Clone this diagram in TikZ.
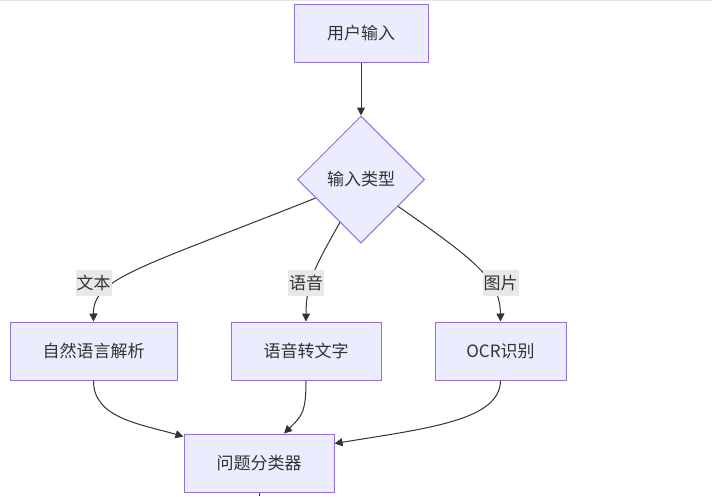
\documentclass[tikz,border=0pt]{standalone}
\usepackage{fontspec}
\setmainfont{Noto Sans CJK SC}
\usetikzlibrary{shapes.geometric,arrows.meta,calc}
\definecolor{nodefill}{HTML}{ECECFF}
\definecolor{nodeborder}{HTML}{9370DB}
\definecolor{edgecol}{HTML}{333333}
\definecolor{lblbg}{HTML}{E8E8E8}
\tikzset{
  box/.style={draw=nodeborder, fill=nodefill, line width=1pt, minimum height=58pt, inner sep=0pt, text=edgecol, font=\fontsize{17pt}{20pt}\selectfont},
  dia/.style={diamond, draw=nodeborder, fill=nodefill, line width=1pt, minimum width=127pt, minimum height=127pt, inner sep=0pt, text=edgecol, font=\fontsize{17pt}{20pt}\selectfont},
  lbl/.style={fill=lblbg, text=edgecol, inner xsep=1pt, inner ysep=0pt, minimum height=26pt, font=\fontsize{17pt}{20pt}\selectfont},
  arr/.style={draw=edgecol, line width=1pt, -{Triangle[length=8pt,width=8pt]}},
  plain/.style={draw=edgecol, line width=1pt}
}
\begin{document}
\begin{tikzpicture}[x=1pt,y=-1pt]
\path[use as bounding box] (0,0) rectangle (712,496);
\fill[white] (0,0) rectangle (712,496);
\draw[draw={rgb,255:red,228;green,228;blue,240}, line width=1pt] (0,0.5) -- (712,0.5);

\node[box, minimum width=134pt] (in) at (361,33) {用户输入};
\node[dia] (type) at (361,179.5) {输入类型};
\node[box, minimum width=167pt] (nlp) at (93.5,351) {自然语言解析};
\node[box, minimum width=150pt] (stt) at (306,351) {语音转文字};
\node[box, minimum width=131pt] (ocr) at (500.5,351) {OCR识别};
\node[box, minimum width=150pt] (clf) at (259,463) {问题分类器};
\coordinate (out) at (259,496);

\draw[arr] (in.south) -- (type.north);

\draw[arr] ($(type.west)!0.29!(type.south)$) .. controls (140,268) and (93,278) .. (nlp.north);
\draw[arr] ($(type.west)!0.67!(type.south)$) .. controls (318,262) and (306,280) .. (stt.north);
\draw[arr] ($(type.east)!0.42!(type.south)$) .. controls (478,262) and (500,280) .. (ocr.north);

\node[lbl] (l1) at (93.5,283) {文本};
\node[lbl] (l2) at (306,283) {语音};
\node[lbl] (l3) at (500.5,283) {图片};

\draw[arr] (nlp.south) .. controls (93,418) and (140,424) .. ($(clf.north west)+(0,3)$);
\draw[arr] (stt.south) .. controls (306,412) and (302,416) .. ($(clf.north)+(25,0)$);
\draw[arr] (ocr.south) .. controls (500,420) and (430,428) .. ($(clf.north east)+(0,10)$);
\draw[plain] (clf.south) -- (out);
\end{tikzpicture}
\end{document}
